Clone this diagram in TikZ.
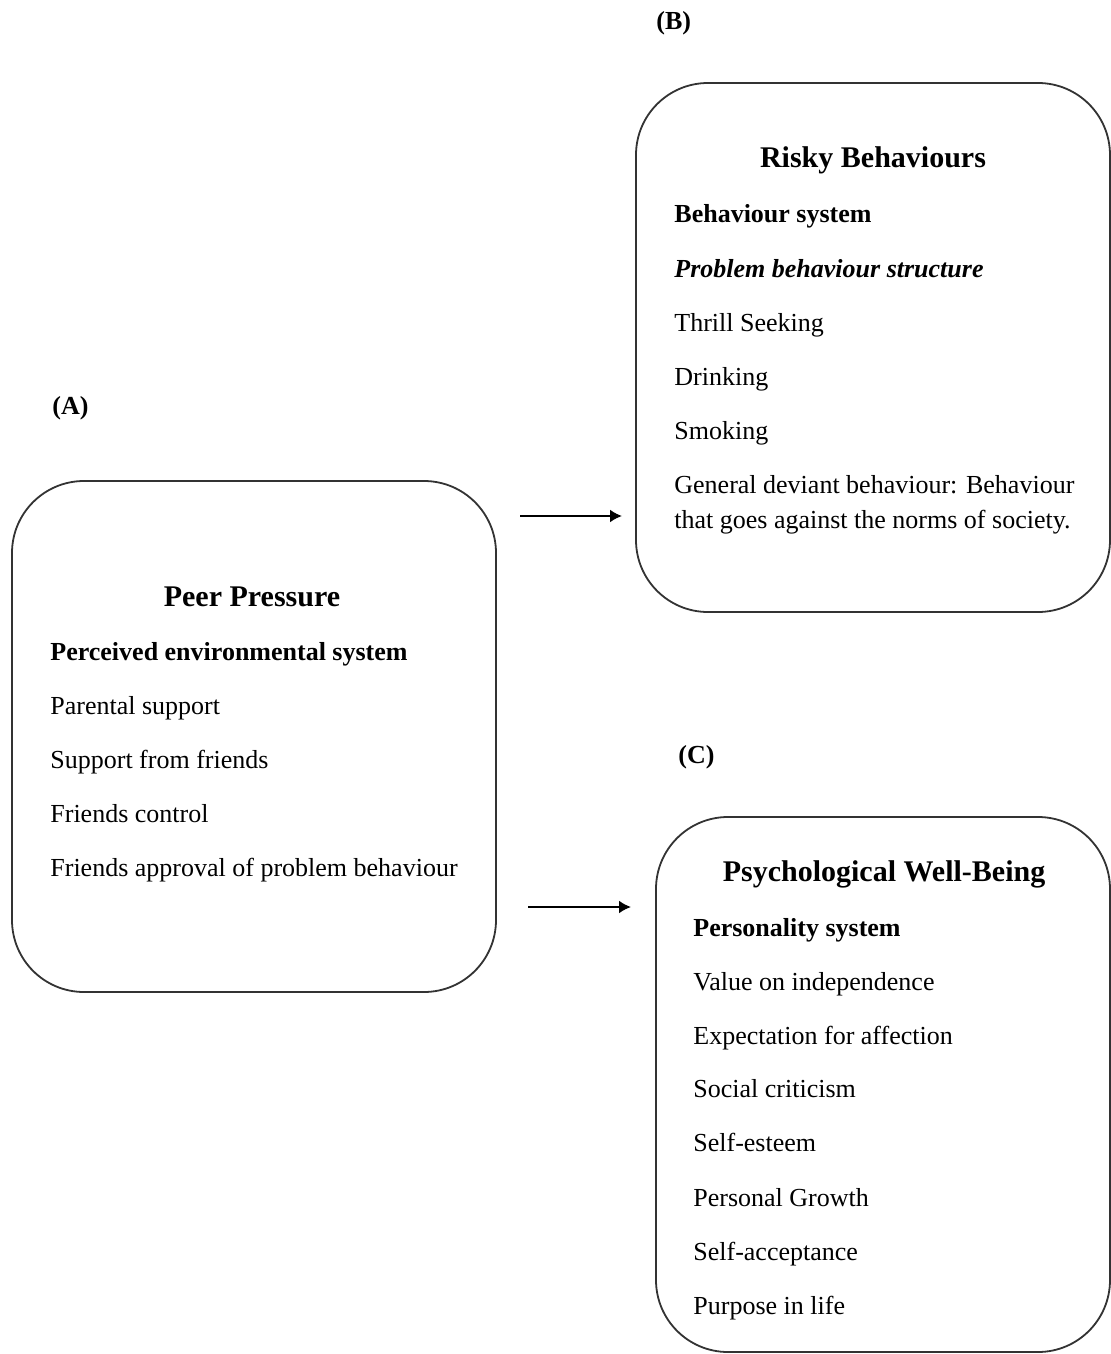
\documentclass[tikz,border=0pt]{standalone}
\usepackage{fontspec}
\setmainfont{Liberation Serif}
\usetikzlibrary{arrows.meta}
\begin{document}
\begin{tikzpicture}[x=0.5pt,y=-0.5pt,
  box/.style={draw=black!80,line width=0.9pt,rounded corners=36pt,inner sep=0pt,outer sep=0pt},
  txt/.style={anchor=base west,inner sep=0pt,font=\fontsize{13}{17.5}\selectfont},
  sub/.style={txt,font=\fontsize{13}{17.5}\selectfont\bfseries},
  ttl/.style={anchor=base,inner sep=0pt,font=\fontsize{15}{18}\selectfont\bfseries},
  lbl/.style={anchor=base west,inner sep=0pt,font=\fontsize{13}{16}\selectfont\bfseries},
  arr/.style={line width=1pt,-{Latex[length=6pt,width=6.5pt]}}]
\useasboundingbox[fill=white] (0,0) rectangle (1111,1354);
% boxes
\node[box,minimum width=242pt,minimum height=255.5pt] (A) at (254,736.5) {};
\node[box,minimum width=237pt,minimum height=264.5pt] (B) at (873,347.5) {};
\node[box,minimum width=227pt,minimum height=267.5pt] (C) at (883,1084.5) {};
% labels
\node[lbl] (la) at (52,414) {(A)};
\node[lbl] (lb) at (656,30) {(B)};
\node[lbl] (lc) at (678,763) {(C)};
% box A
\node[ttl] (a0) at (252,606) {Peer Pressure};
\node[sub] (a1) at (50,660) {Perceived environmental system};
\node[txt] (a2) at (50,714) {Parental support};
\node[txt] (a3) at (50,768) {Support from friends};
\node[txt] (a4) at (50,822) {Friends control};
\node[txt] (a5) at (50,876) {Friends approval of problem behaviour};
% box B
\node[ttl] (b0) at (873,167) {Risky Behaviours};
\node[sub] (b1) at (674,222) {Behaviour system};
\node[txt,font=\fontsize{13}{17.5}\selectfont\bfseries\itshape] (b2) at (674,277) {Problem behaviour structure};
\node[txt] (b3) at (674,331) {Thrill Seeking};
\node[txt] (b4) at (674,385) {Drinking};
\node[txt] (b5) at (674,439) {Smoking};
\node[txt] (b6) at (674,493) {General deviant behaviour: Behaviour};
\node[txt] (b7) at (674,528) {that goes against the norms of society.};
% box C
\node[ttl] (c0) at (884,881) {Psychological Well-Being};
\node[sub] (c1) at (693,936) {Personality system};
\node[txt] (c2) at (693,990) {Value on independence};
\node[txt] (c3) at (693,1044) {Expectation for affection};
\node[txt] (c4) at (693,1097) {Social criticism};
\node[txt] (c5) at (693,1151) {Self-esteem};
\node[txt] (c6) at (693,1206) {Personal Growth};
\node[txt] (c7) at (693,1260) {Self-acceptance};
\node[txt] (c8) at (693,1314) {Purpose in life};
% arrows
\coordinate (p1s) at (520,516);
\coordinate (p1e) at (622,516);
\coordinate (p2s) at (528,907);
\coordinate (p2e) at (631,907);
\draw[arr] (p1s) -- (p1e);
\draw[arr] (p2s) -- (p2e);
\end{tikzpicture}
\end{document}
